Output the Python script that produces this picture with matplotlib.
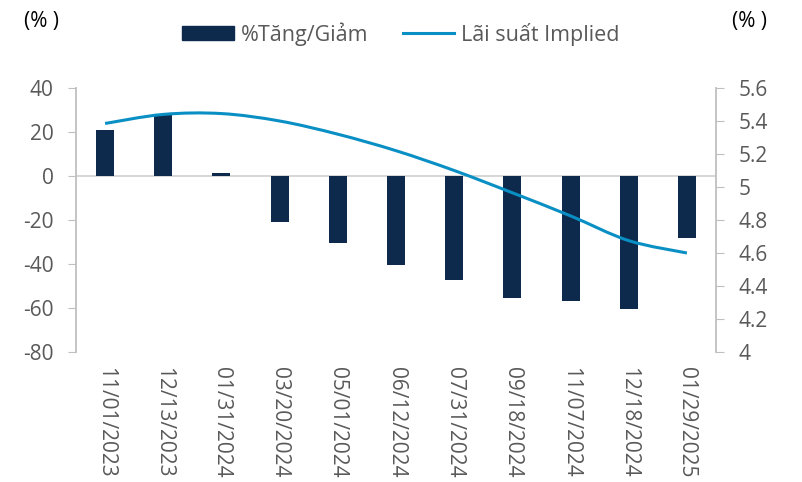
import matplotlib
matplotlib.use("Agg")
import matplotlib.pyplot as plt
from matplotlib.path import Path
from matplotlib.patches import PathPatch
from matplotlib.lines import Line2D
from matplotlib.patches import Rectangle
import numpy as np

plt.rcParams['font.family'] = ['Open Sans', 'DejaVu Sans']

categories = ["11/01/2023", "12/13/2023", "01/31/2024", "03/20/2024", "05/01/2024",
              "06/12/2024", "07/31/2024", "09/18/2024", "11/07/2024", "12/18/2024",
              "01/29/2025"]
pct_change = [20.7, 27.6, 1.5, -20.9, -30.5, -40.6, -47.2, -55.4, -56.6, -60.3, -28.3]
implied_rate = [5.385, 5.44, 5.445, 5.40, 5.32, 5.22, 5.10, 4.965, 4.825, 4.675, 4.60]
left_ticks = [-80, -60, -40, -20, 0, 20, 40]
right_ticks = [4, 4.2, 4.4, 4.6, 4.8, 5, 5.2, 5.4, 5.6]
right_labels = ["4", "4.2", "4.4", "4.6", "4.8", "5", "5.2", "5.4", "5.6"]

bar_color = "#0d2a4d"
line_color = "#0a8fc4"
text_color = "#595959"
spine_color = "#bfbfbf"

fig = plt.figure(figsize=(8.02, 4.82), dpi=100)
ax = fig.add_axes([76/802, 1-352/482, 640/802, 264/482])
x = np.arange(len(categories))
ax.bar(x, pct_change, width=0.31, color=bar_color, zorder=2)
ax.set_xlim(-0.5, len(categories)-0.5)
ax.set_ylim(-80, 40)
ax.set_yticks(left_ticks)
ax.set_yticklabels([str(t) for t in left_ticks])
ax.axhline(0, color="#d0d0d0", lw=1.2, zorder=1)
ax.set_xticks(x)
ax.set_xticklabels(categories, rotation=270, fontsize=15, color=text_color)
ax.tick_params(axis='x', length=0, pad=11)
ax.tick_params(axis='y', length=6, color=spine_color, labelsize=15, labelcolor=text_color, pad=10)
for s in ["top", "right", "bottom"]:
    ax.spines[s].set_visible(False)
ax.spines["left"].set_color(spine_color)
ax.spines["left"].set_linewidth(1.3)

ax2 = ax.twinx()
ax2.set_ylim(4, 5.6)
ax2.set_yticks(right_ticks)
ax2.set_yticklabels(right_labels)
ax2.tick_params(axis='y', length=6, color=spine_color, labelsize=15, labelcolor=text_color, pad=10)
for s in ["top", "left", "bottom"]:
    ax2.spines[s].set_visible(False)
ax2.spines["right"].set_color(spine_color)
ax2.spines["right"].set_linewidth(1.3)

# smooth line (Catmull-Rom as cubic Bezier segments, like Excel smoothed line)
xs = list(x.astype(float)); ys = list(implied_rate)
verts = [(xs[0], ys[0])]
codes = [Path.MOVETO]
n = len(xs)
for i in range(n-1):
    p0 = (xs[i-1], ys[i-1]) if i > 0 else (xs[i], ys[i])
    p1 = (xs[i], ys[i]); p2 = (xs[i+1], ys[i+1])
    p3 = (xs[i+2], ys[i+2]) if i+2 < n else (xs[i+1], ys[i+1])
    c1 = (p1[0] + (p2[0]-p0[0])/6, p1[1] + (p2[1]-p0[1])/6)
    c2 = (p2[0] - (p3[0]-p1[0])/6, p2[1] - (p3[1]-p1[1])/6)
    verts += [c1, c2, p2]
    codes += [Path.CURVE4]*3
ax2.add_patch(PathPatch(Path(verts, codes), fill=False, edgecolor=line_color, lw=2.2, zorder=3))

handles = [Rectangle((0, 0), 1, 1, color=bar_color), Line2D([], [], color=line_color, lw=2.2)]
fig.legend(handles, ["%Tăng/Giảm", "Lãi suất Implied"], loc="center", bbox_to_anchor=(0.5, 1-34/482),
           ncol=2, frameon=False, fontsize=15.5, labelcolor=text_color, handlelength=2.4,
           handleheight=0.65, columnspacing=1.6, handletextpad=0.33)

fig.text(42/802, 1-21/482, "(% )", ha="center", va="center", fontsize=15, color="#000000")
fig.text(750/802, 1-21/482, "(% )", ha="center", va="center", fontsize=15, color="#000000")

fig.savefig("out.png", dpi=100)
